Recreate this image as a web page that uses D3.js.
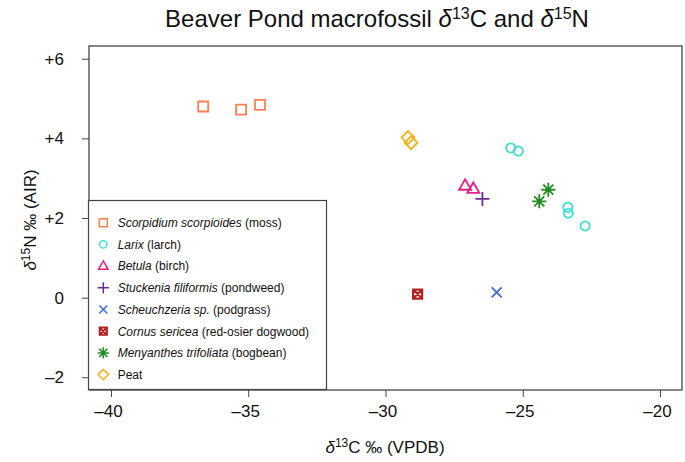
<!DOCTYPE html>
<html><head><meta charset="utf-8">
<script src="https://cdn.jsdelivr.net/npm/d3@7"></script>
<style>body{margin:0;background:#fff}svg{display:block}text{font-family:"Liberation Sans",Arial,sans-serif;fill:#111}</style>
</head><body>
<script>
// ---- data ----
const scorpidiumX = [-36.64, -35.26, -34.57];
const scorpidiumY = [4.80, 4.72, 4.84];
const larixX = [-25.44, -25.16, -23.36, -23.34, -22.73];
const larixY = [3.76, 3.68, 2.27, 2.12, 1.80];
const betulaX = [-27.10, -26.80];
const betulaY = [2.81, 2.73];
const stuckeniaX = [-26.47];
const stuckeniaY = [2.48];
const scheuchzeriaX = [-25.95];
const scheuchzeriaY = [0.13];
const cornusX = [-28.83];
const cornusY = [0.09];
const menyanthesX = [-24.07, -24.40];
const menyanthesY = [2.71, 2.42];
const peatX = [-29.18, -29.07];
const peatY = [4.02, 3.89];
const xTicks = [-40, -35, -30, -25, -20];
const yTicks = [-2, 0, 2, 4, 6];
const yTickLabels = ["–2", "0", "+2", "+4", "+6"];

const series = [
  {italic:"Scorpidium scorpioides", plain:" (moss)", xs:scorpidiumX, ys:scorpidiumY, sym:"square", color:"#FF7F50"},
  {italic:"Larix", plain:" (larch)", xs:larixX, ys:larixY, sym:"circle", color:"#40E0D0"},
  {italic:"Betula", plain:" (birch)", xs:betulaX, ys:betulaY, sym:"triangle", color:"#E8208C"},
  {italic:"Stuckenia filiformis", plain:" (pondweed)", xs:stuckeniaX, ys:stuckeniaY, sym:"plus", color:"#6A2C91"},
  {italic:"Scheuchzeria sp.", plain:" (podgrass)", xs:scheuchzeriaX, ys:scheuchzeriaY, sym:"cross", color:"#4169E1"},
  {italic:"Cornus sericea", plain:" (red-osier dogwood)", xs:cornusX, ys:cornusY, sym:"boxx", color:"#B22222"},
  {italic:"Menyanthes trifoliata", plain:" (bogbean)", xs:menyanthesX, ys:menyanthesY, sym:"star", color:"#228B22"},
  {italic:"", plain:"Peat", xs:peatX, ys:peatY, sym:"diamond", color:"#F5B21B"}
];

const W = 685, H = 462;
const pL = 89, pR = 682, pT = 46, pB = 390;
const svg = d3.select("body").append("svg").attr("width", W).attr("height", H);
const x = d3.scaleLinear().domain([-40.8, -19.2]).range([pL, pR]);
const y = d3.scaleLinear().domain([-2.32, 6.32]).range([pB, pT]);

function symPath(sym, s) {
  const p = d3.path();
  if (sym === "square") { p.rect(-5*s, -5*s, 10*s, 10*s); }
  else if (sym === "circle") { p.moveTo(4.6*s, 0); p.arc(0, 0, 4.6*s, 0, 2*Math.PI); }
  else if (sym === "triangle") { p.moveTo(0, -6.5*s); p.lineTo(6*s, 4*s); p.lineTo(-6*s, 4*s); p.closePath(); }
  else if (sym === "plus") { p.moveTo(-7*s, 0); p.lineTo(7*s, 0); p.moveTo(0, -7*s); p.lineTo(0, 7*s); }
  else if (sym === "cross") { p.moveTo(-5*s, -5*s); p.lineTo(5*s, 5*s); p.moveTo(5*s, -5*s); p.lineTo(-5*s, 5*s); }
  else if (sym === "boxx") { p.rect(-4.5*s, -4.5*s, 9*s, 9*s); p.moveTo(-4.5*s, -4.5*s); p.lineTo(4.5*s, 4.5*s); p.moveTo(4.5*s, -4.5*s); p.lineTo(-4.5*s, 4.5*s); }
  else if (sym === "star") { p.moveTo(-7*s, 0); p.lineTo(7*s, 0); p.moveTo(0, -7*s); p.lineTo(0, 7*s); p.moveTo(-5*s, -5*s); p.lineTo(5*s, 5*s); p.moveTo(5*s, -5*s); p.lineTo(-5*s, 5*s); }
  else if (sym === "diamond") { p.moveTo(0, -6.5*s); p.lineTo(6.5*s, 0); p.lineTo(0, 6.5*s); p.lineTo(-6.5*s, 0); p.closePath(); }
  return p.toString();
}

// title
const title = svg.append("text").attr("x", 377).attr("y", 27).attr("text-anchor", "middle").style("font-size", "24px");
title.append("tspan").text("Beaver Pond macrofossil ");
title.append("tspan").style("font-style", "italic").text("δ");
title.append("tspan").attr("dy", -8).style("font-size", "16px").text("13");
title.append("tspan").attr("dy", 8).text("C and ");
title.append("tspan").style("font-style", "italic").text("δ");
title.append("tspan").attr("dy", -8).style("font-size", "16px").text("15");
title.append("tspan").attr("dy", 8).text("N");

// axes
const xAxis = d3.axisBottom(x).tickValues(xTicks).tickSize(7).tickPadding(8).tickFormat(d => "–" + Math.abs(d));
const gx = svg.append("g").attr("transform", `translate(0,${pB})`).call(xAxis);
gx.select(".domain").remove();
gx.selectAll("text").style("font-size", "17px").attr("fill", "#111").attr("dx", -3);
gx.selectAll("line").attr("stroke", "#444");

const yAxis = d3.axisLeft(y).tickValues(yTicks).tickSize(7).tickPadding(18).tickFormat((d, i) => yTickLabels[i]);
const gy = svg.append("g").attr("transform", `translate(${pL},0)`).call(yAxis);
gy.select(".domain").remove();
gy.selectAll("text").style("font-size", "17px").attr("fill", "#111");
gy.selectAll("line").attr("stroke", "#444");

// box
svg.append("rect").attr("x", pL).attr("y", pT).attr("width", pR - pL).attr("height", pB - pT)
  .attr("fill", "none").attr("stroke", "#444").attr("stroke-width", 1.3);

// axis titles
const xl = svg.append("text").attr("x", 385).attr("y", 453).attr("text-anchor", "middle").style("font-size", "17px");
xl.append("tspan").style("font-style", "italic").text("δ");
xl.append("tspan").attr("dy", -6).style("font-size", "12px").text("13");
xl.append("tspan").attr("dy", 6).text("C ‰ (VPDB)");

const yl = svg.append("text").attr("transform", "translate(36,220) rotate(-90)").attr("text-anchor", "middle").style("font-size", "17px");
yl.append("tspan").style("font-style", "italic").text("δ");
yl.append("tspan").attr("dy", -6).style("font-size", "12px").text("15");
yl.append("tspan").attr("dy", 6).text("N ‰ (AIR)");

// points
series.forEach(s => {
  s.xs.forEach((xv, i) => {
    svg.append("path").attr("d", symPath(s.sym, 1))
      .attr("transform", `translate(${x(xv)},${y(s.ys[i])})`)
      .attr("fill", "none").attr("stroke", s.color).attr("stroke-width", s.sym === "boxx" ? 2.2 : 1.8);
  });
});

// legend
const lg = svg.append("g");
lg.append("rect").attr("x", 88.5).attr("y", 200.5).attr("width", 238).attr("height", 189)
  .attr("fill", "#fff").attr("stroke", "#444").attr("stroke-width", 1.2);
series.forEach((s, i) => {
  const yy = 222.7 + i * 21.7;
  lg.append("path").attr("d", symPath(s.sym, 0.8)).attr("transform", `translate(103.3,${yy})`)
    .attr("fill", "none").attr("stroke", s.color).attr("stroke-width", s.sym === "boxx" ? 2 : 1.5);
  const t = lg.append("text").attr("x", 117.7).attr("y", yy + 4.3).style("font-size", "12px");
  if (s.italic) t.append("tspan").style("font-style", "italic").text(s.italic);
  t.append("tspan").text(s.plain);
});
</script>
</body></html>
